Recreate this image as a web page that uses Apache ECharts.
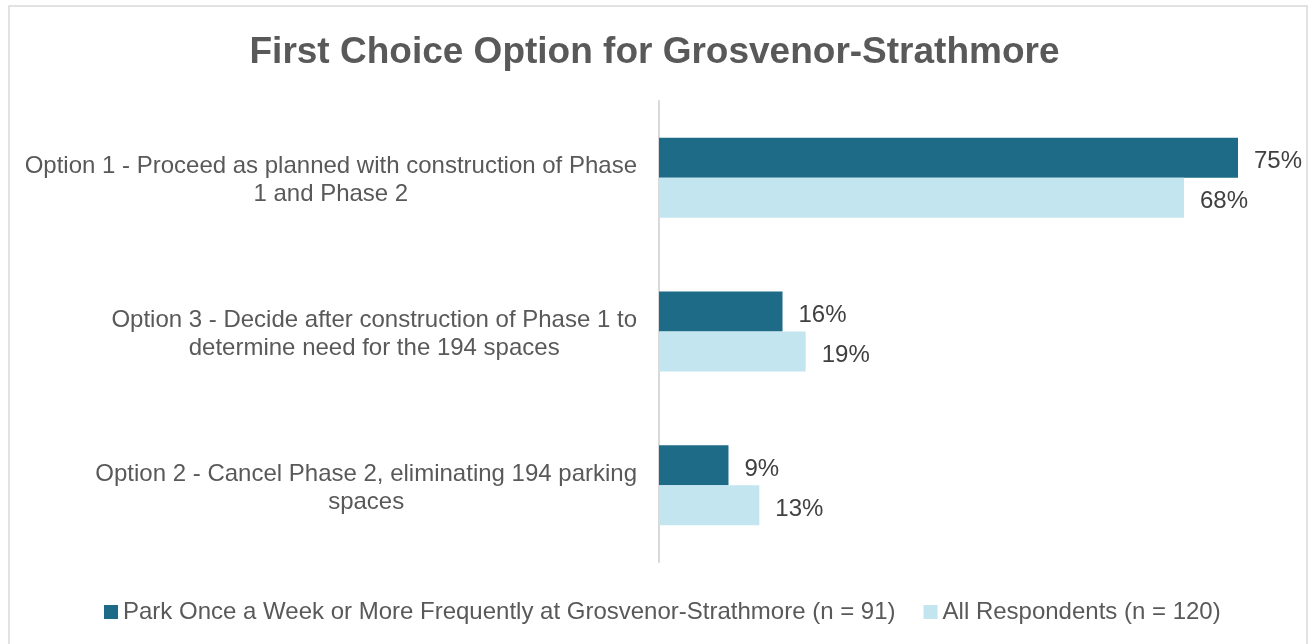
<!DOCTYPE html>
<html lang="en">
<head>
    <meta charset="UTF-8">
    <title>First Choice Option for Grosvenor-Strathmore</title>
    <script src="https://cdn.jsdelivr.net/npm/echarts@6/dist/echarts.min.js"></script>
    <style>
        html, body { margin: 0; padding: 0; background: #fff; }
        #chart { width: 1309px; height: 644px; }
    </style>
</head>
<body>
    <div id="chart"></div>
    <script>
        var categories = [
            'Option 1 - Proceed as planned with construction of Phase\n1 and Phase 2',
            'Option 3 - Decide after construction of Phase 1 to\ndetermine need for the 194 spaces',
            'Option 2 - Cancel Phase 2, eliminating 194 parking\nspaces'
        ];
        var frequentParkers = [75, 16, 9];
        var allRespondents = [68, 19, 13];
        var seriesNames = [
            'Park Once a Week or More Frequently at Grosvenor-Strathmore (n = 91)',
            'All Respondents (n = 120)'
        ];

        var font = '"Liberation Sans", Arial, sans-serif';
        var chart = echarts.init(document.getElementById('chart'));

        function barLabel() {
            return {
                show: true,
                position: 'right',
                distance: 16,
                offset: [0, 4],
                formatter: '{c}%',
                fontSize: 24,
                color: '#404040',
                fontFamily: font
            };
        }

        chart.setOption({
            animation: false,
            textStyle: { fontFamily: font },
            title: {
                text: 'First Choice Option for Grosvenor-Strathmore',
                left: 'center',
                top: 29,
                textStyle: { fontSize: 37, fontWeight: 'bold', color: '#595959', fontFamily: font }
            },
            graphic: [{
                type: 'rect',
                shape: { x: 9, y: 6, width: 1298, height: 660 },
                style: { fill: 'none', stroke: '#d9d9d9', lineWidth: 1.5 },
                silent: true
            }],
            legend: {
                bottom: 15,
                left: 99,
                itemWidth: 14,
                itemHeight: 14,
                itemGap: 28,
                icon: 'rect',
                textStyle: { fontSize: 24, color: '#595959', fontFamily: font },
                data: seriesNames
            },
            grid: {
                left: 659,
                right: 71,
                top: 101,
                bottom: 82,
                containLabel: false
            },
            xAxis: {
                type: 'value',
                min: 0,
                max: 75,
                show: false
            },
            yAxis: {
                type: 'category',
                inverse: true,
                data: categories,
                axisLine: { show: true, lineStyle: { color: '#d9d9d9', width: 2 } },
                axisTick: { show: false },
                axisLabel: {
                    margin: 22,
                    align: 'right',
                    fontSize: 24,
                    color: '#595959',
                    lineHeight: 28,
                    padding: [6, 0, 0, 0],
                    formatter: function (v) {
                        return v.split('\n').map(function (s) { return '{c|' + s + '}'; }).join('\n');
                    },
                    rich: {
                        c: { align: 'center', fontSize: 24, color: '#595959', lineHeight: 28, fontFamily: font }
                    }
                }
            },
            series: [{
                name: seriesNames[0],
                type: 'bar',
                data: frequentParkers,
                barWidth: 40,
                barGap: '0%',
                itemStyle: { color: '#1d6b86' },
                label: barLabel()
            }, {
                name: seriesNames[1],
                type: 'bar',
                data: allRespondents,
                barWidth: 40,
                barGap: '0%',
                itemStyle: { color: '#c2e5f0' },
                label: barLabel()
            }]
        });
    </script>
</body>
</html>
